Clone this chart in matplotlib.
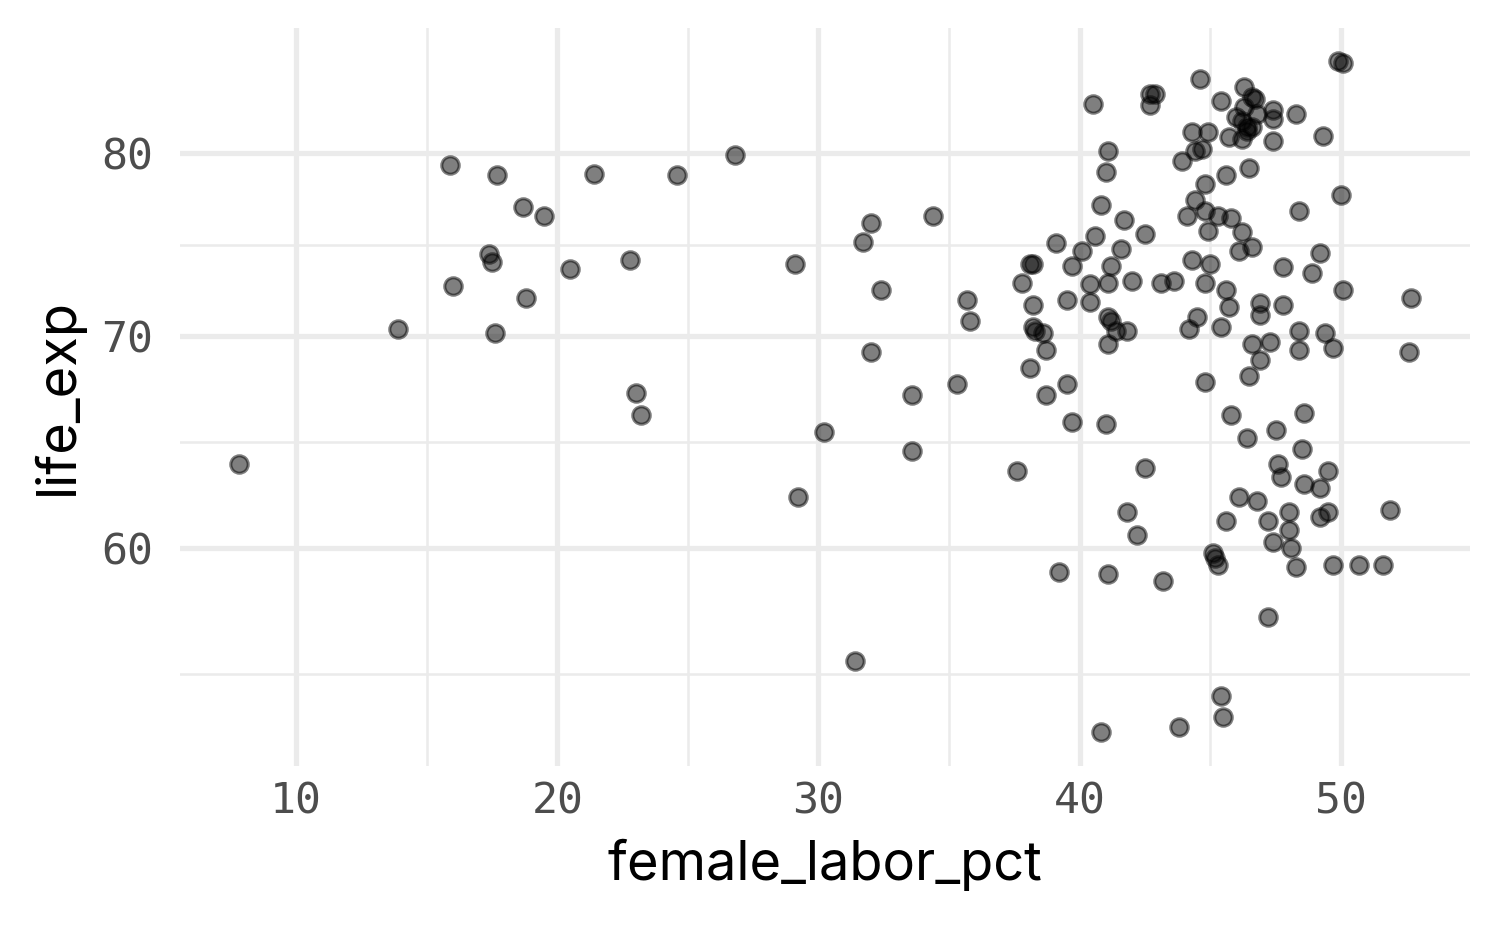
import numpy as np
import matplotlib
matplotlib.use("Agg")
import matplotlib.pyplot as plt
from matplotlib.ticker import FixedLocator, NullFormatter

# values
female_labor_pct = [
    7.8, 13.9, 15.9, 16.0, 17.7, 17.4, 17.5, 17.6, 18.7, 18.8, 19.5, 20.5, 21.4, 22.8, 23.0, 23.2,
    24.6, 26.8, 29.1, 29.2, 30.2, 31.4, 31.7, 32.0, 32.0, 32.4, 33.6, 33.6, 34.4, 35.3, 35.7, 35.8, 37.6,
    40.5, 42.7, 42.9, 42.7, 41.1, 43.9, 41.0, 40.8, 41.7, 44.1, 44.4, 42.5, 40.6, 39.1, 40.1, 41.6,
    38.1, 38.2, 39.7, 41.2, 37.8, 40.4, 41.1, 42.0, 43.1, 43.6, 39.5, 40.4, 38.2, 41.1, 41.2, 41.4,
    41.8, 44.2, 38.2, 38.3, 38.6, 41.1, 38.7, 38.1, 39.5, 38.7, 39.7, 41.0, 42.5, 41.8, 42.2, 39.2,
    41.1, 43.2, 40.8, 43.8,
    44.6, 49.9, 50.1, 46.3, 46.6, 46.7, 45.4, 46.3, 47.4, 48.3, 46.0, 46.8, 47.4, 46.2, 46.4, 46.6,
    46.4, 44.3, 44.9, 45.7, 46.2, 47.4, 49.3, 44.4, 44.7, 46.5, 45.6, 44.8, 50.0, 44.8, 45.3, 45.8,
    48.4, 44.9, 46.2, 46.1, 46.6, 49.2, 44.3, 45.0, 47.8, 48.9, 44.8, 45.6, 45.7, 46.9, 46.9, 47.8,
    50.1, 44.5, 45.4, 48.4, 49.4, 46.6, 47.3, 48.4, 49.7, 46.9, 46.5, 44.8, 45.8, 48.6, 47.5, 46.4,
    48.5, 47.6, 47.7, 49.5, 48.6, 49.2, 46.1, 46.8, 48.0, 49.5, 49.2, 45.6, 47.2, 48.0, 47.4, 48.1,
    45.1, 45.2, 45.3, 48.3, 49.7, 50.7, 51.6, 51.9, 52.7, 52.6, 47.2, 45.4, 45.5,
]
life_exp = [
    63.8, 70.4, 79.3, 72.6, 78.7, 74.3, 73.9, 70.2, 76.9, 72.0, 76.4, 73.5, 78.8, 74.0, 67.2, 66.1,
    78.7, 79.9, 73.8, 62.3, 65.3, 55.3, 75.0, 76.0, 69.2, 72.4, 67.1, 64.4, 76.4, 67.6, 71.9, 70.8, 63.5,
    82.9, 83.5, 83.5, 82.8, 80.1, 79.5, 78.9, 77.0, 76.2, 76.4, 77.3, 75.4, 75.3, 74.9, 74.5, 74.6,
    73.8, 73.8, 73.7, 73.7, 72.8, 72.7, 72.8, 72.9, 72.8, 72.9, 71.9, 71.8, 71.6, 71.0, 70.8, 70.3,
    70.3, 70.4, 70.5, 70.3, 70.2, 69.6, 69.3, 68.4, 67.6, 67.1, 65.8, 65.7, 63.6, 61.6, 60.6, 59.0,
    58.9, 58.6, 52.5, 52.7,
    84.4, 85.5, 85.4, 83.9, 83.3, 83.2, 83.1, 82.7, 82.5, 82.3, 82.1, 82.3, 82.0, 81.9, 81.5, 81.5,
    81.3, 81.2, 81.2, 80.9, 80.8, 80.7, 81.0, 80.1, 80.2, 79.1, 78.7, 78.2, 77.6, 76.7, 76.4, 76.3,
    76.7, 75.6, 75.5, 74.5, 74.7, 74.4, 74.0, 73.8, 73.6, 73.3, 72.8, 72.4, 71.5, 71.7, 71.1, 71.6,
    72.4, 71.0, 70.5, 70.3, 70.2, 69.6, 69.7, 69.3, 69.4, 68.8, 68.0, 67.7, 66.1, 66.2, 65.4, 65.0,
    64.5, 63.8, 63.2, 63.5, 62.9, 62.7, 62.3, 62.1, 61.6, 61.6, 61.4, 61.2, 61.2, 60.8, 60.3, 60.0,
    59.8, 59.6, 59.3, 59.2, 59.3, 59.3, 59.3, 61.7, 72.0, 69.2, 57.1, 53.9, 53.1,
]
x_breaks = [10, 20, 30, 40, 50]
y_breaks = [60, 70, 80]

grid_col = "#EBEBEB"
tick_font = ["DejaVu Sans Mono"]
title_font = ["Inter", "DejaVu Sans"]

fig = plt.figure(figsize=(5, 3.09), dpi=300)
ax = fig.add_axes([0.12, 0.174, 0.86, 0.796])

ax.scatter(female_labor_pct, life_exp, s=17.5, c="black", alpha=0.5,
           edgecolors="black", linewidths=0.75, zorder=3)

ax.set_yscale("log")

# 5% expansion like ggplot (y in log space)
xs = np.array(female_labor_pct)
ly = np.log(np.array(life_exp))
xr = xs.max() - xs.min()
yr = ly.max() - ly.min()
ax.set_xlim(xs.min() - 0.05 * xr, xs.max() + 0.05 * xr)
ax.set_ylim(np.exp(ly.min() - 0.05 * yr), np.exp(ly.max() + 0.05 * yr))

# minor lines halfway between breaks (log space for y)
xb = [0] + x_breaks + [60]
ax.xaxis.set_major_locator(FixedLocator(x_breaks))
ax.xaxis.set_minor_locator(FixedLocator([(a + b) / 2 for a, b in zip(xb[:-1], xb[1:])]))
ax.set_xticklabels([str(v) for v in x_breaks])

yb = [50] + y_breaks
ax.yaxis.set_major_locator(FixedLocator(y_breaks))
ax.yaxis.set_minor_locator(FixedLocator([np.sqrt(a * b) for a, b in zip(yb[:-1], yb[1:])]))
ax.set_yticklabels([str(v) for v in y_breaks])
ax.yaxis.set_minor_formatter(NullFormatter())
ax.xaxis.set_minor_formatter(NullFormatter())

ax.grid(True, which="major", color=grid_col, linewidth=1.25, zorder=0)
ax.grid(True, which="minor", color=grid_col, linewidth=0.62, zorder=0)
ax.set_axisbelow(True)
for sp in ax.spines.values():
    sp.set_visible(False)

ax.tick_params(which="both", length=0)
ax.tick_params(axis="x", pad=3.5)
ax.tick_params(axis="y", pad=6.5)
for lab in ax.get_xticklabels() + ax.get_yticklabels():
    lab.set_family(tick_font)
    lab.set_fontsize(10.4)
    lab.set_color("#4D4D4D")

ax.set_xlabel("female_labor_pct", family=title_font, fontsize=13, color="black", labelpad=4)
ax.set_ylabel("life_exp", family=title_font, fontsize=13, color="black", labelpad=4)

fig.savefig("out.png", dpi=300, facecolor="white")
